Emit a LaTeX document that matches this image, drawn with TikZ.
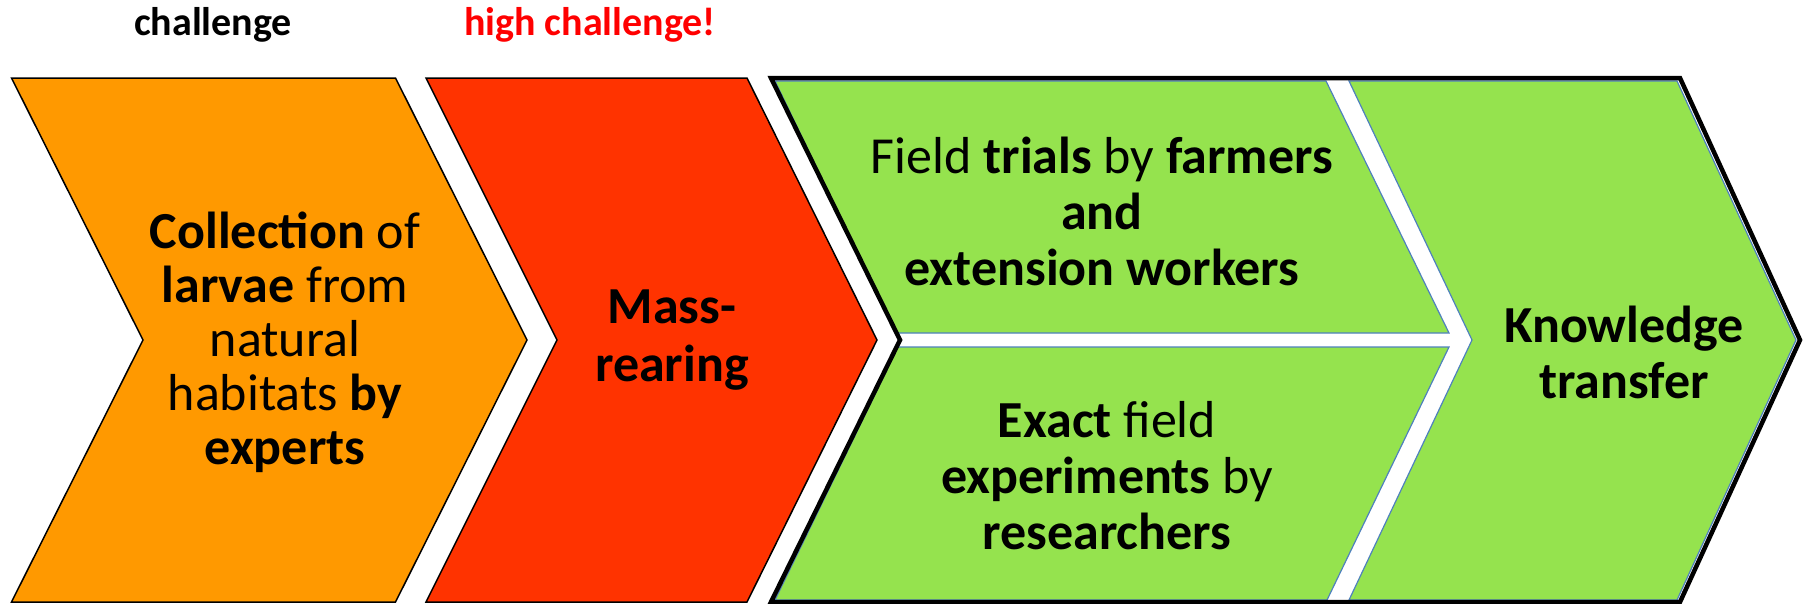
\documentclass[tikz,border=0pt]{standalone}
\usepackage{fontspec}
\setmainfont{Carlito}
\definecolor{corange}{HTML}{FF9900}
\definecolor{cred}{HTML}{FF3300}
\definecolor{cgreen}{HTML}{95E34E}
\definecolor{cblue}{HTML}{4F81BD}
\definecolor{lblred}{HTML}{FF0000}
\tikzset{
  txt/.style={align=center, font=\fontsize{52}{54}\selectfont, text=black, inner sep=0pt},
  lbl/.style={font=\fontsize{40}{46}\selectfont\bfseries, inner sep=0pt},
  chev/.style={draw=black, line width=1.5pt, line join=miter},
  gbox/.style={fill=cgreen, draw=cblue, line width=1.2pt, line join=miter},
  outer/.style={draw=black, line width=4.5pt, line join=miter},
}
\begin{document}
\begin{tikzpicture}[x=1pt,y=-1pt]
\useasboundingbox (0,0) rectangle (1808,603);
% labels
\node[lbl, text=black] (l1) at (213,25) {challenge};
\node[lbl, text=lblred] (l2) at (590,25) {high challenge!};
% orange chevron
\fill[corange] (11.5,78) -- (395.5,78) -- (527,340) -- (395.5,602) -- (11.5,602) -- (143,340) -- cycle;
\draw[chev] (11.5,78) -- (395.5,78) -- (527,340) -- (395.5,602) -- (11.5,602) -- (143,340) -- cycle;
% red chevron
\fill[cred] (426,78) -- (747,78) -- (877,340) -- (747,602) -- (426,602) -- (557,340) -- cycle;
\draw[chev] (426,78) -- (747,78) -- (877,340) -- (747,602) -- (426,602) -- (557,340) -- cycle;
% green group
\draw[gbox] (775,81) -- (1326,81) -- (1449,333) -- (896,333) -- cycle;
\draw[gbox] (898,347) -- (1449,347) -- (1327,600) -- (775,600) -- cycle;
\draw[gbox] (1349,81) -- (1677,81) -- (1796,340) -- (1677,600) -- (1349,600) -- (1472,340) -- cycle;
\draw[outer] (771,78) -- (1680,78) -- (1800,340) -- (1680,602) -- (771,602) -- (900,340) -- cycle;
% texts
\node[txt] (t1) at (285,342) {\textbf{Collection} of\\\textbf{larvae} from\\natural\\habitats \textbf{by}\\\textbf{experts}};
\node[txt, font=\fontsize{52}{58}\selectfont] (t2) at (672,340) {\textbf{Mass-}\\\textbf{rearing}};
\node[txt, font=\fontsize{52}{56}\selectfont] (t3) at (1102,211) {Field \textbf{trials} by \textbf{farmers}\\\textbf{and}\\\textbf{extension workers}};
\node[txt, font=\fontsize{52}{56}\selectfont] (t4) at (1107,476) {\textbf{Exact} field\\\textbf{experiments} by\\\textbf{researchers}};
\node[txt, font=\fontsize{52}{56}\selectfont] (t5) at (1624,352) {\textbf{Knowledge}\\\textbf{transfer}};
\end{tikzpicture}
\end{document}
